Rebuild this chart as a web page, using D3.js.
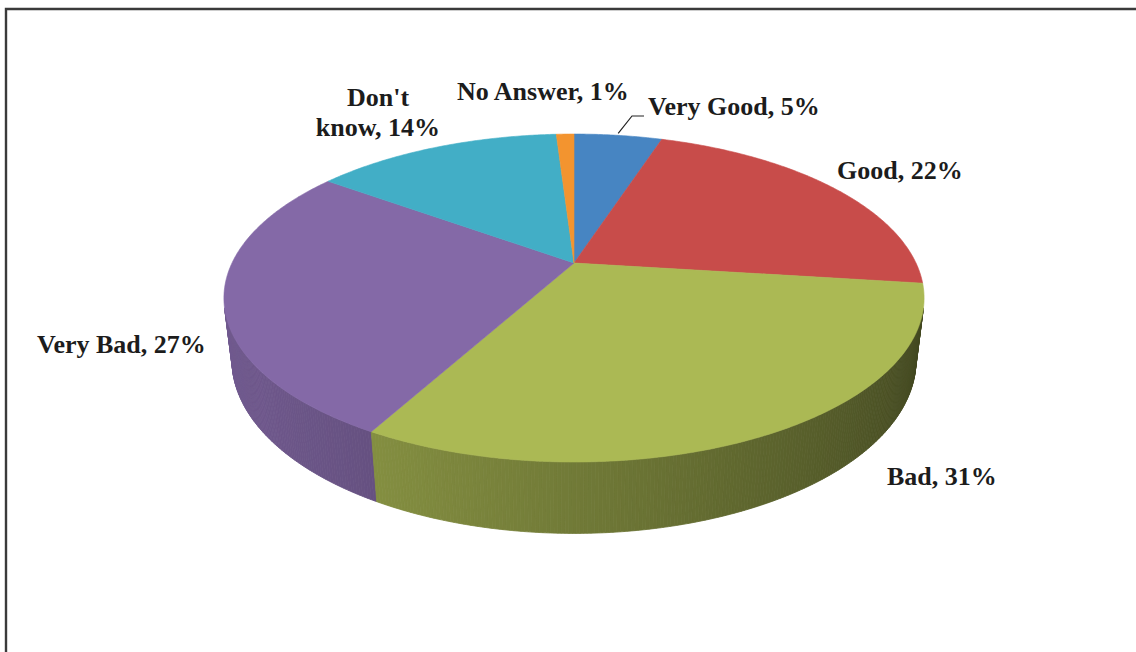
<!DOCTYPE html>
<html>
<head>
<meta charset="utf-8">
<script src="https://cdn.jsdelivr.net/npm/d3@7/dist/d3.min.js"></script>
<style>
  html, body { margin: 0; padding: 0; background: #fff; }
  svg { display: block; }
</style>
</head>
<body>
<svg id="chart" width="1136" height="652"></svg>
<script>
// ---- data ----
const categories = ["Very Good", "Good", "Bad", "Very Bad", "Don't know", "No Answer"];
const values = [5, 22, 31, 27, 14, 1];
const colors = ["#4785c2", "#c84c4a", "#abb954", "#8469a7", "#42aec6", "#f3942f"];
const labelLines = [["Very Good, 5%"], ["Good, 22%"], ["Bad, 31%"], ["Very Bad, 27%"], ["Don't", "know, 14%"], ["No Answer, 1%"]];

// ---- layout (label placement, not data) ----
const labelLayout = [
  { x: 648, y: 115, anchor: "start" },
  { x: 837, y: 179, anchor: "start" },
  { x: 887, y: 485, anchor: "start" },
  { x: 37,  y: 353, anchor: "start" },
  { x: 378, y: 106, anchor: "middle" },
  { x: 457, y: 100, anchor: "start" }
];

const W = 1136, H = 652;
const svg = d3.select("#chart");

// frame
svg.append("path")
  .attr("d", `M6,${H} V9 H${W}`)
  .attr("fill", "none")
  .attr("stroke", "#3a3a3a")
  .attr("stroke-width", 2.4);

// 3D perspective projection
const cx = 574, cy = 263;
const R = 342;
const depthH = 70;
const alpha = Math.asin(0.4576);
const L = 4.163 * R;
const F = L;
const sinA = Math.sin(alpha), cosA = Math.cos(alpha);

function project(phi, r, Y) {
  const X = r * Math.sin(phi);
  const Z = -r * Math.cos(phi);
  const dep = L - Y * sinA - Z * cosA;
  return [cx + F * X / dep, cy + F * (Z * sinA - Y * cosA) / dep];
}

const pie = d3.pie().sort(null).value(d => d).startAngle(0).endAngle(2 * Math.PI);
const arcs = pie(values);

const step = Math.PI / 360;
const light = [-1, 0.25];
const ll = Math.hypot(light[0], light[1]);

function visible(phi) {
  const X = R * Math.sin(phi), Z = -R * Math.cos(phi);
  const camZ = L * cosA;
  const v = (-X) * Math.sin(phi) + (camZ - Z) * (-Math.cos(phi));
  return v > 0;
}

// sides
const sideG = svg.append("g");
const quads = [];
arcs.forEach((a, i) => {
  for (let p = a.startAngle; p < a.endAngle - 1e-9; p += step) {
    const p2 = Math.min(p + step, a.endAngle);
    const pm = (p + p2) / 2;
    if (!visible(pm)) continue;
    const n = [Math.sin(pm), -Math.cos(pm)];
    const dot = (n[0] * light[0] + n[1] * light[1]) / ll;
    const f = 0.6 + 0.25 * dot;
    const c = d3.rgb(colors[i]);
    const col = d3.rgb(c.r * f, c.g * f, c.b * f).formatHex();
    const pts = [project(p, R, 0), project(p2, R, 0), project(p2, R, -depthH), project(p, R, -depthH)];
    quads.push({ pts, col, z: -Math.cos(pm) });
  }
});
quads.sort((a, b) => a.z - b.z);
sideG.selectAll("path").data(quads).join("path")
  .attr("d", d => "M" + d.pts.map(p => p.join(",")).join("L") + "Z")
  .attr("fill", d => d.col)
  .attr("stroke", d => d.col)
  .attr("stroke-width", 0.8);

// tops
const topG = svg.append("g");
topG.selectAll("path").data(arcs).join("path")
  .attr("d", a => {
    const pts = [[cx, cy]];
    for (let p = a.startAngle; p < a.endAngle; p += step) pts.push(project(p, R, 0));
    pts.push(project(a.endAngle, R, 0));
    return "M" + pts.map(p => p.join(",")).join("L") + "Z";
  })
  .attr("fill", (a, i) => colors[i])
  .attr("stroke", (a, i) => colors[i])
  .attr("stroke-width", 0.6);

// leader line for Very Good
const vgMid = (arcs[0].startAngle + arcs[0].endAngle) / 2;
const vgPt = project(vgMid, R, 0);
svg.append("path")
  .attr("d", `M${vgPt[0]},${vgPt[1] - 2} L${labelLayout[0].x - 16},${labelLayout[0].y + 1} H${labelLayout[0].x - 4}`)
  .attr("fill", "none")
  .attr("stroke", "#222")
  .attr("stroke-width", 1.2);

// labels
const lab = svg.append("g")
  .attr("font-family", "'Liberation Serif', 'Times New Roman', serif")
  .attr("font-weight", "bold")
  .attr("font-size", 26)
  .attr("fill", "#1c1c1c");
labelLines.forEach((lines, i) => {
  lines.forEach((ln, j) => {
    lab.append("text")
      .attr("x", labelLayout[i].x)
      .attr("y", labelLayout[i].y + j * 30)
      .attr("text-anchor", labelLayout[i].anchor)
      .text(ln);
  });
});
</script>
</body>
</html>
